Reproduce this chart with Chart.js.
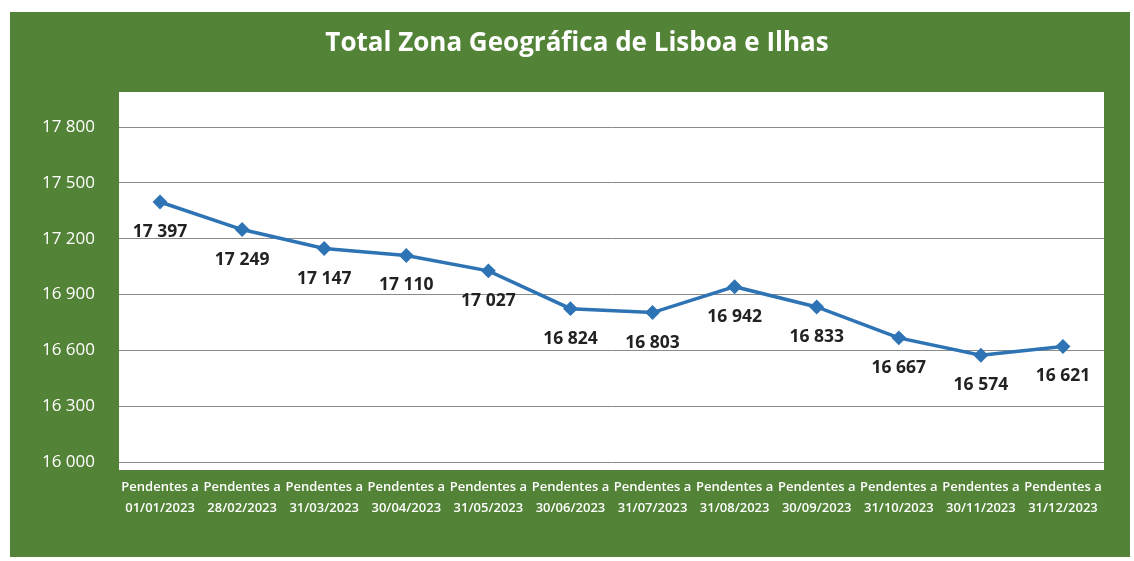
<!DOCTYPE html>
<html>
<head>
<meta charset="utf-8">
<script src="https://cdn.jsdelivr.net/npm/chart.js@4"></script>
<style>
  html, body { margin: 0; padding: 0; background: #fff; }
  #wrap { width: 1134px; height: 561px; }
</style>
</head>
<body>
<div id="wrap"><canvas id="chart" width="1134" height="561"></canvas></div>
<script>
// values
const dates = ['01/01/2023', '28/02/2023', '31/03/2023', '30/04/2023', '31/05/2023', '30/06/2023',
  '31/07/2023', '31/08/2023', '30/09/2023', '31/10/2023', '30/11/2023', '31/12/2023'];
const pendentes = [17397, 17249, 17147, 17110, 17027, 16824, 16803, 16942, 16833, 16667, 16574, 16621];
const yTicks = [16000, 16300, 16600, 16900, 17200, 17500, 17800];
const chartTitle = 'Total Zona Geográfica de Lisboa e Ilhas';

const green = '#528336';
const lineBlue = '#2e74b5';

function fmt(v) {
  return v.toLocaleString('en-US').replace(',', ' ');
}

// green panel + white plot box behind everything, title on top
const backdrop = {
  id: 'backdrop',
  beforeDraw(chart) {
    const ctx = chart.ctx;
    const a = chart.chartArea;
    ctx.save();
    ctx.fillStyle = '#ffffff';
    ctx.fillRect(0, 0, chart.width, chart.height);
    ctx.fillStyle = green;
    ctx.fillRect(10, 12, 1120, 545);
    ctx.fillStyle = '#ffffff';
    ctx.fillRect(a.left, a.top - 35, a.right - a.left, a.bottom - a.top + 43);
    ctx.fillStyle = '#ffffff';
    ctx.font = 'bold 26px "Open Sans", sans-serif';
    ctx.textAlign = 'center';
    ctx.textBaseline = 'middle';
    ctx.fillText(chartTitle, 577, 44);
    ctx.restore();
  }
};

// value labels under each point
const pointLabels = {
  id: 'pointLabels',
  afterDatasetsDraw(chart) {
    const ctx = chart.ctx;
    const meta = chart.getDatasetMeta(0);
    ctx.save();
    ctx.font = 'bold 17.5px "Open Sans", sans-serif';
    ctx.fillStyle = '#222';
    ctx.textAlign = 'center';
    ctx.textBaseline = 'middle';
    meta.data.forEach((pt, i) => {
      ctx.fillText(fmt(pendentes[i]), pt.x, pt.y + 30);
    });
    ctx.restore();
  }
};

new Chart(document.getElementById('chart').getContext('2d'), {
  type: 'line',
  plugins: [backdrop, pointLabels],
  data: {
    labels: dates.map(d => ['Pendentes a', d]),
    datasets: [{
      label: 'Pendentes',
      data: pendentes,
      borderColor: lineBlue,
      backgroundColor: lineBlue,
      borderWidth: 3.5,
      pointStyle: 'rectRot',
      pointRadius: 5,
      tension: 0
    }]
  },
  options: {
    responsive: false,
    animation: false,
    layout: { padding: { left: 0, right: 30, top: 127, bottom: 0 } },
    plugins: {
      legend: { display: false },
      tooltip: { enabled: false },
      title: { display: false }
    },
    scales: {
      x: {
        offset: true,
        grid: { display: false },
        border: { display: false },
        ticks: {
          color: '#ffffff',
          font: { family: '"Open Sans", sans-serif', size: 13, weight: '600', lineHeight: 1.6 },
          padding: 7,
          maxRotation: 0,
          autoSkip: false
        },
        afterFit(scale) { scale.height = 99; }
      },
      y: {
        min: 16000,
        max: 17800,
        afterBuildTicks(scale) { scale.ticks = yTicks.map(v => ({ value: v })); },
        grid: { color: '#8a8a8a', lineWidth: 1, drawTicks: false },
        border: { display: false },
        ticks: {
          color: '#ffffff',
          font: { family: '"Open Sans", sans-serif', size: 17 },
          padding: 24,
          callback: v => fmt(v)
        },
        afterFit(scale) { scale.width = 119; }
      }
    }
  }
});
</script>
</body>
</html>
